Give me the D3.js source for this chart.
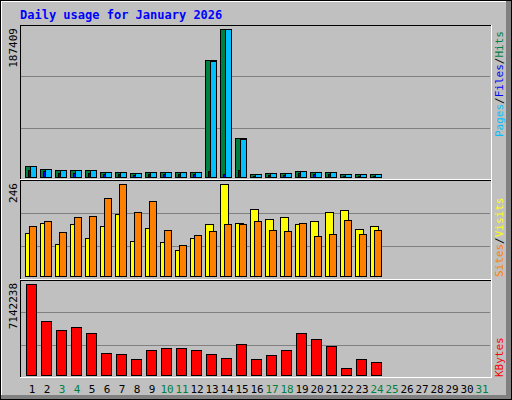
<!DOCTYPE html>
<html><head><meta charset="utf-8">
<script src="https://cdn.jsdelivr.net/npm/d3@7/dist/d3.min.js"></script>
<style>body{margin:0;background:#fff}</style></head>
<body><script>
const days = d3.range(1,32);
const weekend = [3,4,10,11,17,18,24,25,31];
const hits  = [13930,10130,8860,8860,8860,6330,6330,5065,6330,6330,6330,6330,148150,187409,49380,3800,5065,5065,7600,6330,6330,3800,3800,3800];
const files = [9000,7000,5500,5500,5500,3500,3500,2500,3500,3500,3500,3500,7000,3500,9000,1500,2500,2500,4500,3500,3500,1500,1500,1500];
const pages = [13500,9800,8500,8500,8500,6000,6000,4800,6000,6000,6000,6000,147000,187000,48500,3600,4800,4800,7400,6000,6000,3600,3600,3600];
const visits= [114,143,85,138,101,133,165,93,128,90,69,101,138,246,143,178,152,157,138,146,170,176,125,133];
const sites = [135,146,117,157,160,208,246,170,200,122,82,109,120,138,138,146,122,120,143,106,112,149,112,122];
const kbytes= [7142238,4238000,3532000,3767000,3296000,1727000,1648000,1256000,1962000,2119000,2119000,1962000,1648000,1334000,2433000,1256000,1570000,1962000,3296000,2826000,2276000,549000,1256000,1020000];
const maxHits=187409, maxVisits=246, maxKB=7142238;

const svg=d3.select("body").append("svg").attr("width",512).attr("height",400);
svg.append("rect").attr("width",512).attr("height",400).attr("fill","#c0c0c0");
svg.append("rect").attr("x",506).attr("y",0).attr("width",6).attr("height",400).attr("fill","#808080");
svg.append("rect").attr("x",0).attr("y",395).attr("width",512).attr("height",5).attr("fill","#808080");
svg.append("rect").attr("x",0.5).attr("y",0.5).attr("width",511).attr("height",399).attr("fill","none").attr("stroke","#000");
svg.append("line").attr("x1",1).attr("x2",506).attr("y1",1.5).attr("y2",1.5).attr("stroke","#fff");
svg.append("line").attr("x1",1.5).attr("x2",1.5).attr("y1",1).attr("y2",395).attr("stroke","#fff");

const x=d3.scaleLinear().domain([1,2]).range([25,40]);
const font="'DejaVu Sans Mono', monospace";

svg.append("text").attr("x",20).attr("y",19).text("Daily usage for January 2026")
  .attr("font-family",font).attr("font-weight","bold").attr("font-size",12).attr("fill","#0000ff");

function panel(y0,y1,base,top,max,label){
  const y=d3.scaleLinear().domain([0,max]).range([base,top]);
  [1/3,2/3].forEach(f=>{const gy=Math.round(y1-(y1-y0)*f)+0.5;
    svg.append("line").attr("x1",21).attr("x2",490).attr("y1",gy).attr("y2",gy).attr("stroke","#808080");});
  svg.append("line").attr("x1",20).attr("x2",491).attr("y1",y0+0.5).attr("y2",y0+0.5).attr("stroke","#000");
  svg.append("line").attr("x1",20.5).attr("x2",20.5).attr("y1",y0).attr("y2",y1).attr("stroke","#000");
  svg.append("line").attr("x1",20).attr("x2",492).attr("y1",y1+0.5).attr("y2",y1+0.5).attr("stroke","#fff");
  svg.append("line").attr("x1",491.5).attr("x2",491.5).attr("y1",y0).attr("y2",y1+1).attr("stroke","#fff");
  svg.append("text").attr("transform",`translate(17,${top-1}) rotate(-90)`).attr("text-anchor","end")
    .attr("font-family",font).attr("font-size",11).attr("fill","#000").text(label);
  return y;
}
function bars(data,y,dx,w,color){
  svg.append("g").selectAll("rect").data(data).join("rect")
    .attr("x",(d,i)=>x(i+1)+dx+0.5).attr("y",d=>Math.round(y(d))+0.5)
    .attr("width",w).attr("height",d=>Math.max(1,y.range()[0]-Math.round(y(d))))
    .attr("fill",color).attr("stroke","#000");
}
const y1=panel(25,179,177,29,maxHits,String(maxHits));
bars(hits,y1,0,11,"#008040");
bars(files,y1,3,7,"#0000ff");
bars(pages,y1,5,6,"#00c0ff");
const y2=panel(180,279,276,184,maxVisits,String(maxVisits));
bars(visits,y2,0,8,"#ffff00");
bars(sites,y2,4,7,"#ff8000");
const y3=panel(280,377,375,284,maxKB,String(maxKB));
bars(kbytes,y3,1,10,"#ff0000");

svg.append("g").selectAll("text").data(days).join("text")
  .attr("x",d=>x(d)+7).attr("y",393).attr("text-anchor","middle")
  .attr("font-family",font).attr("font-size",11)
  .attr("fill",d=>weekend.includes(d)?"#008040":"#000").text(d=>d);

function rlabel(yb,parts){
  const t=svg.append("text").attr("transform",`translate(503,${yb}) rotate(-90)`)
    .attr("font-family",font).attr("font-size",11);
  parts.forEach(([s,c])=>t.append("tspan").attr("fill",c).text(s));
}
rlabel(137,[["Pages","#00c0ff"],["/","#000"],["Files","#0000ff"],["/","#000"],["Hits","#008040"]]);
rlabel(277,[["Sites","#ff8000"],["/","#000"],["Visits","#ffff00"]]);
rlabel(377,[["KBytes","#ff0000"]]);
</script></body></html>
